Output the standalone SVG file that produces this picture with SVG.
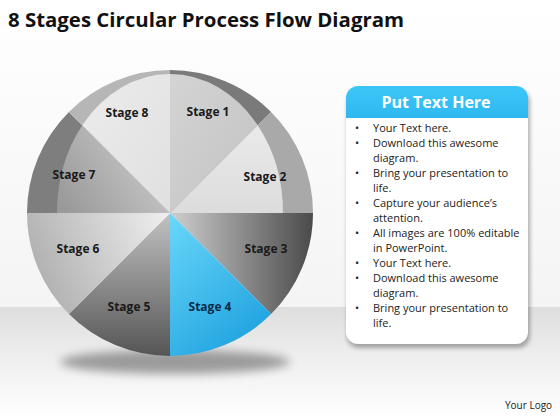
<svg xmlns="http://www.w3.org/2000/svg" width="560" height="420" viewBox="0 0 560 420">
<defs>
<linearGradient id="bgTop" x1="0" y1="0" x2="0" y2="1"><stop offset="0" stop-color="#ffffff"/><stop offset="1" stop-color="#f4f4f4"/></linearGradient>
<linearGradient id="bgBot" x1="0" y1="0" x2="0" y2="1"><stop offset="0" stop-color="#dedede"/><stop offset="0.5" stop-color="#f0f0f0"/><stop offset="1" stop-color="#ffffff"/></linearGradient>
<radialGradient id="shadow"><stop offset="0" stop-color="#000" stop-opacity="0.45"/><stop offset="1" stop-color="#000" stop-opacity="0"/></radialGradient>
<linearGradient id="g1" x1="0" y1="0" x2="1" y2="1"><stop offset="0" stop-color="#d4d4d4"/><stop offset="1" stop-color="#c2c2c2"/></linearGradient>
<linearGradient id="g2" x1="0" y1="0" x2="0" y2="1"><stop offset="0" stop-color="#eaeaea"/><stop offset="1" stop-color="#dcdcdc"/></linearGradient>
<linearGradient id="g3" x1="0" y1="0" x2="1" y2="0"><stop offset="0" stop-color="#cfcfcf"/><stop offset="1" stop-color="#4a4a4a"/></linearGradient>
<linearGradient id="g4" x1="0" y1="0" x2="0.6" y2="1"><stop offset="0" stop-color="#6ad8fa"/><stop offset="1" stop-color="#22a4e0"/></linearGradient>
<linearGradient id="g5" x1="0" y1="0" x2="0" y2="1"><stop offset="0" stop-color="#c2c2c2"/><stop offset="1" stop-color="#555555"/></linearGradient>
<linearGradient id="g6" x1="1" y1="0" x2="0" y2="0.3"><stop offset="0" stop-color="#f0f0f0"/><stop offset="1" stop-color="#b2b2b2"/></linearGradient>
<linearGradient id="g7" x1="1" y1="0.3" x2="0" y2="0.8"><stop offset="0" stop-color="#cdcdcd"/><stop offset="1" stop-color="#9a9a9a"/></linearGradient>
<linearGradient id="g8" x1="0" y1="0" x2="1" y2="1"><stop offset="0" stop-color="#ececec"/><stop offset="1" stop-color="#e0e0e0"/></linearGradient>
<linearGradient id="hdr" x1="0" y1="0" x2="0" y2="1"><stop offset="0" stop-color="#3cc6f8"/><stop offset="1" stop-color="#2fb8ef"/></linearGradient>
<filter id="blur" x="-20%" y="-50%" width="140%" height="200%"><feGaussianBlur stdDeviation="5"/></filter>
<filter id="blur2" x="-10%" y="-10%" width="120%" height="120%"><feGaussianBlur stdDeviation="2"/></filter>
<style>
.lbl{font-family:"Open Sans","Liberation Sans",sans-serif;font-weight:bold;font-size:12px;fill:#1a1a1a;text-anchor:middle}
.lbl4{fill:#0d2a4a}
.bul{font-family:"Open Sans","Liberation Sans",sans-serif;font-size:11px;fill:#222}
</style>
</defs>
<rect x="0" y="0" width="560" height="307" fill="url(#bgTop)"/>
<rect x="0" y="307" width="560" height="113" fill="url(#bgBot)"/>
<text x="8" y="27" font-family="Open Sans,Liberation Sans,sans-serif" font-weight="bold" font-size="20" fill="#111" textLength="396" lengthAdjust="spacingAndGlyphs">8 Stages Circular Process Flow Diagram</text>
<ellipse cx="175" cy="362" rx="115" ry="12" fill="#000" opacity="0.35" filter="url(#blur)"/>
<g id="stage1"><path d="M170,213 L170,70 A143,143 0 0 1 271.1,111.9 Z" fill="#7a7a7a"/><path d="M170,213 L170,74 A113,139 0 0 1 257.7,125.3 Z" fill="url(#g1)"/><text class="lbl" x="208" y="116">Stage 1</text></g>
<g id="stage2"><path d="M170,213 L271.1,111.9 A143,143 0 0 1 313,213 Z" fill="#a9a9a9"/><path d="M170,213 L257.7,125.3 A113,139 0 0 1 283,213 Z" fill="url(#g2)"/><text class="lbl" x="265" y="181">Stage 2</text></g>
<g id="stage3"><path d="M170,213 L313,213 A143,143 0 0 1 271.1,314.1 Z" fill="url(#g3)"/><text class="lbl" x="266" y="253">Stage 3</text></g>
<g id="stage4"><path d="M170,213 L271.1,314.1 A143,143 0 0 1 170,356 Z" fill="url(#g4)"/><text class="lbl lbl4" x="210" y="311">Stage 4</text></g>
<g id="stage5"><path d="M170,213 L170,356 A143,143 0 0 1 68.9,314.1 Z" fill="url(#g5)"/><text class="lbl" x="129" y="311">Stage 5</text></g>
<g id="stage6"><path d="M170,213 L68.9,314.1 A143,143 0 0 1 27,213 Z" fill="url(#g6)"/><text class="lbl" x="78" y="253">Stage 6</text></g>
<g id="stage7"><path d="M170,213 L27,213 A143,143 0 0 1 68.9,111.9 Z" fill="#7e7e7e"/><path d="M170,213 L57,213 A113,139 0 0 1 82.3,125.3 Z" fill="url(#g7)"/><text class="lbl" x="74" y="179">Stage 7</text></g>
<g id="stage8"><path d="M170,213 L68.9,111.9 A143,143 0 0 1 170,70 Z" fill="#b6b6b6"/><path d="M170,213 L82.3,125.3 A113,139 0 0 1 170,74 Z" fill="url(#g8)"/><text class="lbl" x="127" y="117">Stage 8</text></g>
<g id="textbox">
<rect x="347" y="90" width="183" height="258" rx="12" fill="#000" opacity="0.3" filter="url(#blur2)"/>
<rect x="346" y="86" width="182" height="258" rx="12" fill="#ffffff"/>
<path d="M346,118 L346,98 A12,12 0 0 1 358,86 L516,86 A12,12 0 0 1 528,98 L528,118 Z" fill="url(#hdr)"/>
<text x="436" y="108" font-family="Open Sans,Liberation Sans,sans-serif" font-weight="bold" font-size="16" fill="#fff" text-anchor="middle">Put Text Here</text>
<g class="bul">
<text x="355" y="132">•</text><text x="373" y="132">Your Text here.</text>
<text x="355" y="147">•</text><text x="373" y="147">Download this awesome</text>
<text x="373" y="162">diagram.</text>
<text x="355" y="177">•</text><text x="373" y="177">Bring your presentation to</text>
<text x="373" y="192">life.</text>
<text x="355" y="207">•</text><text x="373" y="207">Capture your audience’s</text>
<text x="373" y="222">attention.</text>
<text x="355" y="237">•</text><text x="373" y="237">All images are 100% editable</text>
<text x="373" y="252">in PowerPoint.</text>
<text x="355" y="267">•</text><text x="373" y="267">Your Text here.</text>
<text x="355" y="282">•</text><text x="373" y="282">Download this awesome</text>
<text x="373" y="297">diagram.</text>
<text x="355" y="312">•</text><text x="373" y="312">Bring your presentation to</text>
<text x="373" y="327">life.</text>
</g>
</g>
<text x="505" y="409" font-family="Open Sans,Liberation Sans,sans-serif" font-size="10" fill="#222">Your Logo</text>
</svg>
